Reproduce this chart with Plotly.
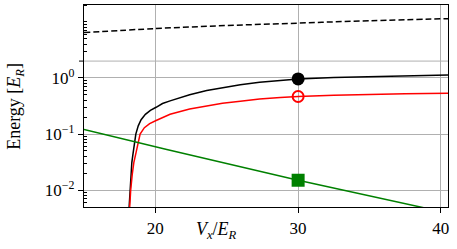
import plotly.graph_objects as go

# ---- data ----
black_x = [18.14, 18.16, 18.2, 18.28, 18.35, 18.42, 18.52, 18.63, 18.8, 19.0, 19.3, 19.65,
           20.05, 20.5, 21.03, 22.4, 23.6, 25.95, 27.3, 28.75, 30.0, 32.5, 35.0, 37.5, 40.5]
black_y = [0.004, 0.005, 0.01, 0.02, 0.031, 0.042, 0.064, 0.1, 0.14, 0.18, 0.225, 0.265,
           0.30, 0.35, 0.39, 0.50, 0.60, 0.76, 0.84, 0.91, 0.96, 1.02, 1.06, 1.10, 1.13]

red_x = [18.18, 18.2, 18.27, 18.38, 18.49, 18.65, 18.8, 18.93, 19.23, 19.6, 20.05, 20.5,
         21.03, 22.4, 23.6, 24.7, 25.95, 27.3, 28.75, 30.0, 32.5, 35.0, 37.5, 40.5]
red_y = [0.004, 0.005, 0.01, 0.019, 0.031, 0.047, 0.075, 0.1, 0.13, 0.153, 0.174, 0.198,
         0.225, 0.28, 0.32, 0.355, 0.385, 0.42, 0.447, 0.467, 0.49, 0.51, 0.523, 0.535]

green_x = [15.0, 20.8, 30.0, 40.5]
green_y = [0.12, 0.053, 0.015, 0.0039]

dash_x = [15.0, 20.0, 25.0, 30.0, 35.0, 40.5]
dash_y = [6.44, 7.6, 8.6, 9.5, 10.5, 11.4]

mark_x = 30.0
mark_black = 0.96
mark_red = 0.467
mark_green = 0.015

x_ticks = [20, 30, 40]
y_ticks = [0.01, 0.1, 1]
y_ticktext = ["10<sup>−2</sup>", "10<sup>−1</sup>", "10<sup>0</sup>"]
y_extra_line = 2
y_minor = [0.005, 0.006, 0.007, 0.008, 0.009,
           0.02, 0.03, 0.04, 0.05, 0.06, 0.07, 0.08, 0.09,
           0.2, 0.3, 0.4, 0.5, 0.6, 0.7, 0.8, 0.9,
           3, 4, 5, 6, 7, 8, 9, 10, 20]

FONT = "Liberation Serif"

fig = go.Figure()
fig.add_trace(go.Scatter(x=dash_x, y=dash_y, mode="lines", line_shape="spline",
                         line=dict(color="black", width=1.5, dash="6px,3px"), showlegend=False))
fig.add_trace(go.Scatter(x=black_x, y=black_y, mode="lines",
                         line=dict(color="black", width=1.5), showlegend=False))
fig.add_trace(go.Scatter(x=red_x, y=red_y, mode="lines",
                         line=dict(color="red", width=1.5), showlegend=False))
fig.add_trace(go.Scatter(x=green_x, y=green_y, mode="lines",
                         line=dict(color="green", width=1.5), showlegend=False))
fig.add_trace(go.Scatter(x=[mark_x], y=[mark_black], mode="markers",
                         marker=dict(color="black", size=13, symbol="circle"), showlegend=False))
fig.add_trace(go.Scatter(x=[mark_x], y=[mark_red], mode="markers",
                         marker=dict(color="rgba(0,0,0,0)", size=11, symbol="circle",
                                     line=dict(color="red", width=2)), showlegend=False))
fig.add_trace(go.Scatter(x=[mark_x], y=[mark_green], mode="markers",
                         marker=dict(color="green", size=13, symbol="square"), showlegend=False))

fig.update_layout(
    width=457, height=249,
    margin=dict(l=84, r=9, t=5, b=42),
    plot_bgcolor="white", paper_bgcolor="white",
    font=dict(family=FONT, size=16, color="black"),
    xaxis=dict(range=[15, 40.5], tickvals=x_ticks, ticks="outside", ticklen=5,
               tickcolor="black", showline=True, linecolor="black", linewidth=1.3,
               mirror=True, showgrid=True, gridcolor="#b0b0b0", gridwidth=1,
               zeroline=False, tickfont=dict(family=FONT, size=17)),
    yaxis=dict(type="log", range=[-2.301, 1.301], tickvals=y_ticks, ticktext=y_ticktext,
               ticks="outside", ticklen=5, tickcolor="black", showline=True,
               linecolor="black", linewidth=1.3, mirror=True, showgrid=True,
               gridcolor="#b0b0b0", gridwidth=1, zeroline=False,
               tickfont=dict(family=FONT, size=17),
               minor=dict(tickvals=y_minor, ticks="inside", ticklen=3,
                          tickcolor="black", showgrid=False)),
    shapes=[
        dict(type="line", xref="paper", yref="y", x0=0, x1=1, y0=y_extra_line, y1=y_extra_line,
             line=dict(color="#b0b0b0", width=1), layer="below"),
        dict(type="line", xref="paper", yref="y", x0=-5 / 364, x1=0, y0=y_extra_line,
             y1=y_extra_line, line=dict(color="black", width=1)),
    ],
    annotations=[
        dict(text="<i>V</i><sub><i>x</i></sub>/<i>E</i><sub><i>R</i></sub>",
             x=24.3, xref="x", y=-0.115, yref="paper", showarrow=False,
             xanchor="center", yanchor="middle", font=dict(family=FONT, size=18)),
        dict(text="Energy [<i>E</i><sub><i>R</i></sub>]", textangle=-90,
             x=-0.19, xref="paper", y=0.5, yref="paper", showarrow=False,
             xanchor="center", yanchor="middle", font=dict(family=FONT, size=18)),
    ],
)

fig.write_html("out.html", config={"displayModeBar": False},
               post_script="document.body.style.margin='0';")
